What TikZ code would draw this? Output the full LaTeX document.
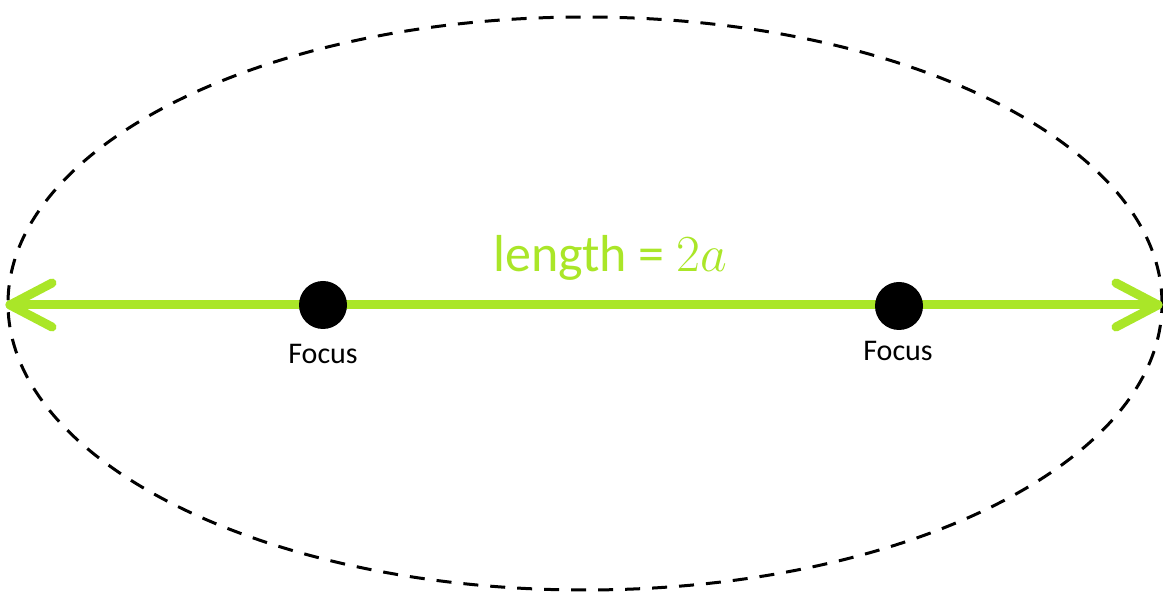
\RequirePackage{fix-cm}
\documentclass[tikz,border=0pt]{standalone}
\usepackage{fontspec}
\setmainfont{Carlito}
\usetikzlibrary{calc}
\definecolor{limeg}{RGB}{170,230,40}
\tikzset{
  orbit/.style={draw=black, line width=3pt, dash pattern=on 15pt off 12pt},
  axisline/.style={draw=limeg, line width=9pt, line cap=round, line join=round},
  focusdot/.style={circle, fill=black, minimum size=48pt, inner sep=0pt},
  focuslabel/.style={font=\fontsize{30}{34}\selectfont, inner sep=0pt},
  lenlabel/.style={font=\fontsize{52}{58}\selectfont, text=limeg, inner sep=0pt, anchor=base}
}
\begin{document}
\begin{tikzpicture}[x=1pt,y=1pt]
\useasboundingbox (0,0) rectangle (1163,592);
\draw[orbit] (585,288.5) ellipse [x radius=577, y radius=286.5];
\coordinate (L) at (10,287);
\coordinate (R) at (1158,287);
\draw[axisline] (L) -- (R);
\draw[axisline] ($(L)+(42,22)$) -- (L) -- ($(L)+(42,-22)$);
\draw[axisline] ($(R)+(-42,22)$) -- (R) -- ($(R)+(-42,-22)$);
\node[focusdot] (f1) at (323,287) {};
\node[focusdot] (f2) at (899,286) {};
\node[focuslabel] (t1) at (323,238) {Focus};
\node[focuslabel] (t2) at (898,241) {Focus};
\node[lenlabel] (len) at (610,320) {length = $2a$};
\end{tikzpicture}
\end{document}
